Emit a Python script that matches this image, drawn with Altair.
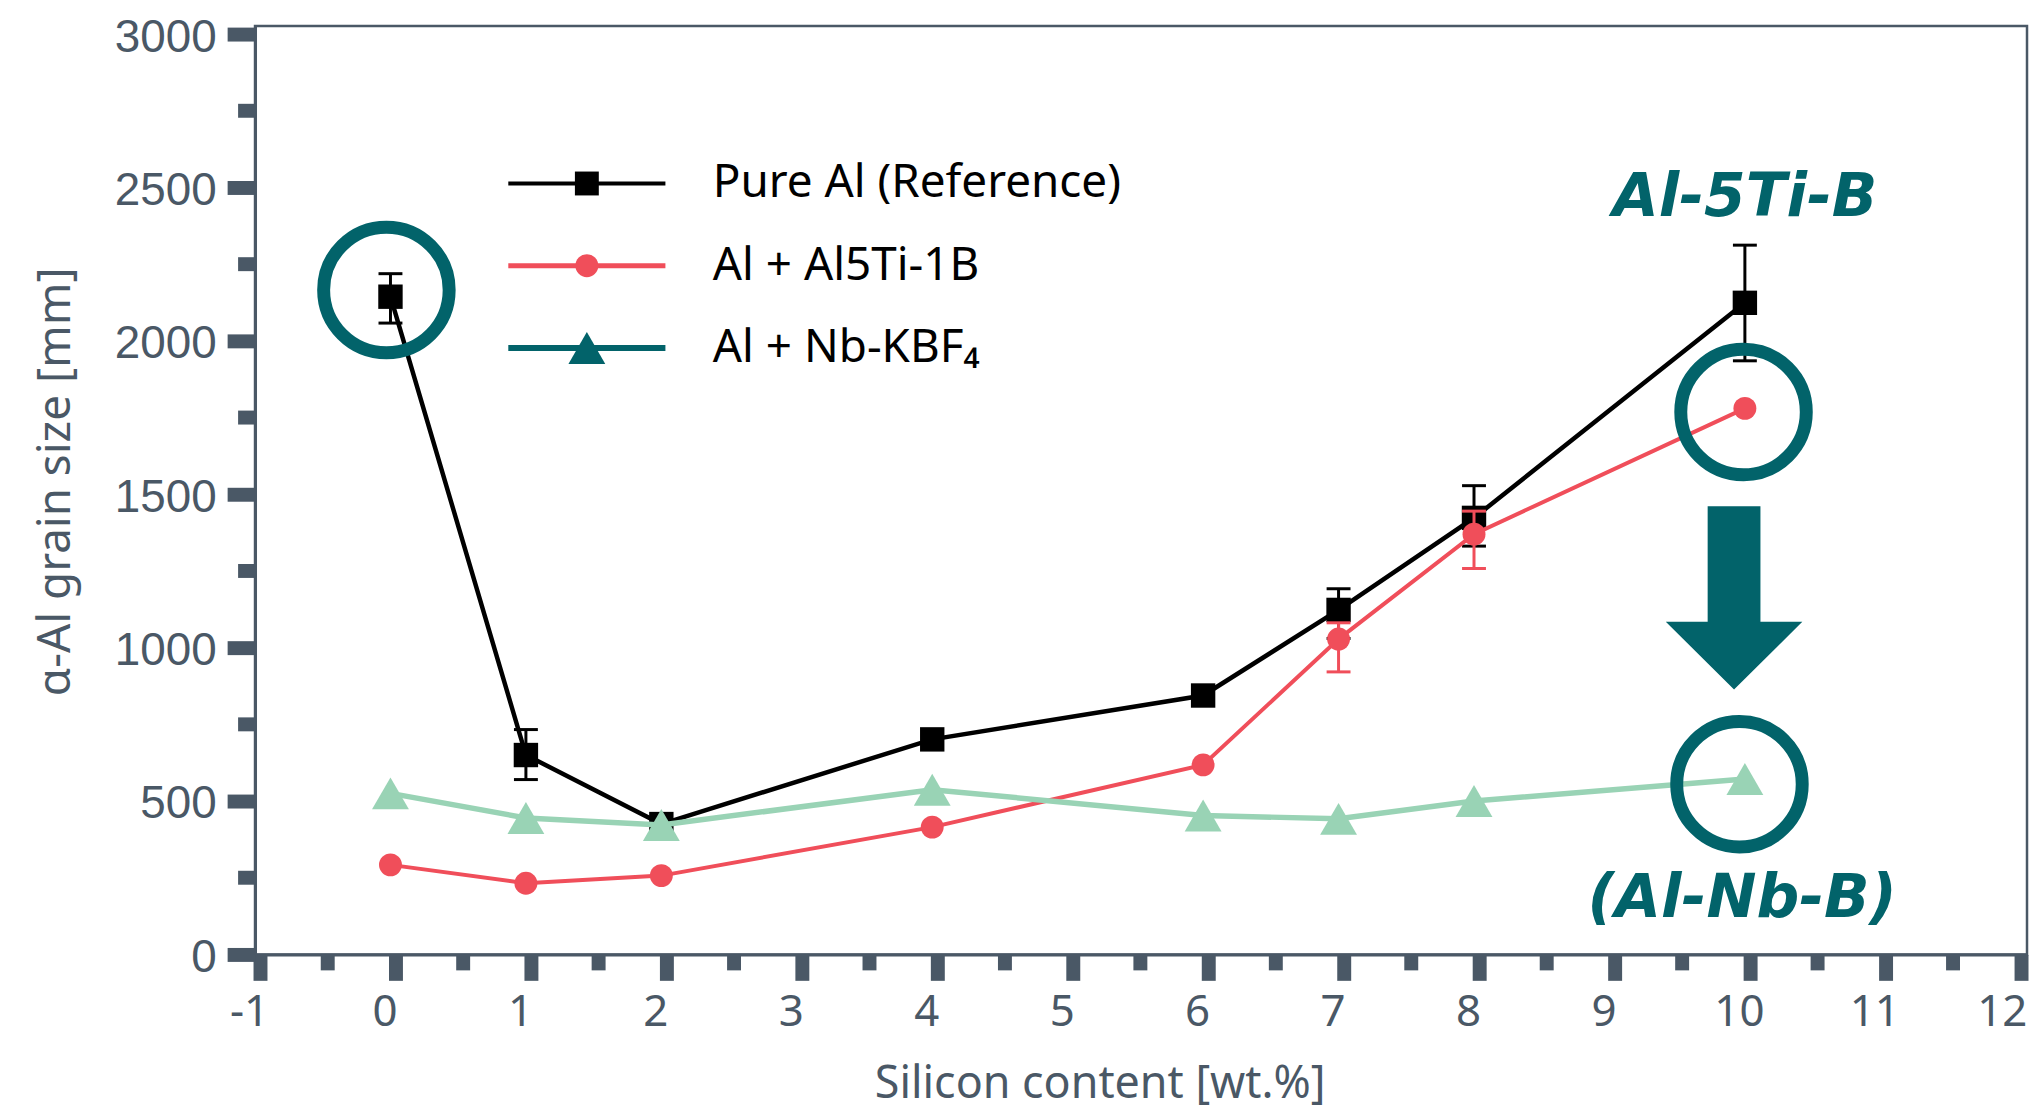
import altair as alt
import pandas as pd

# ---------------- data ----------------
si = [0, 1, 2, 4, 6, 7, 8, 10]
pure_al = [2144, 650, 425, 701, 844, 1123, 1423, 2124]
al5ti_1b = [292, 232, 257, 415, 618, 1028, 1370, 1780]
nb_kbf4 = [525, 445, 422, 537, 453, 442, 500, 572]

pure_err_si = [0, 1, 7, 8, 10]
pure_err_lo = [2058, 570, 1030, 1331, 1935]
pure_err_hi = [2219, 733, 1192, 1528, 2312]

al5ti_err_si = [7, 8]
al5ti_err_lo = [921, 1258]
al5ti_err_hi = [1081, 1445]

legend_labels = ["Pure Al (Reference)", "Al + Al5Ti-1B", "Al + Nb-KBF\u2084"]
x_ticks = list(range(-1, 13))
x_minor = [i + 0.5 for i in range(-1, 12)]
y_ticks = list(range(0, 3001, 500))
y_minor = list(range(250, 3000, 500))

# annotation anchors (data units)
ring_x = [-0.03, 9.99, 9.96]
ring_y = [2166, 1768, 555]
arrow_x = [9.92]
arrow_y = [1162]
note_text = ["Al-5Ti-B", "(Al-Nb-B)"]
note_x = [10.0, 9.98]
note_y = [2464, 182]
leg_x0, leg_x1, leg_xm, leg_xt = 0.87, 2.03, 1.45, 2.38
leg_y = [2513, 2245, 1977]

# ---------------- styles ----------------
AX = "#4a5866"
BLACK = "#000000"
RED = "#f04e5a"
MINT = "#99d3b5"
TEAL = "#02636a"
FONT = "Noto Sans"

xscale = alt.Scale(domain=[-1, 12.083], nice=False, zero=False)
yscale = alt.Scale(domain=[0, 3026], nice=False, zero=False)

x_axis = alt.Axis(values=x_ticks, title="Silicon content [wt.%]", grid=False,
                  tickSize=26, tickWidth=14, tickColor=AX, tickOffset=5,
                  labelOffset={"condition": {"test": "datum.value == 12", "value": -19}, "value": -11},
                  labelPadding=10, labelFont=FONT, labelFontSize=44,
                  labelColor=AX, labelFlush=False, labelOverlap=False,
                  labelExpr="'' + datum.value",
                  domainColor=AX, domainWidth=3,
                  titleFont=FONT, titleFontSize=45, titleFontWeight="normal", titleColor=AX,
                  titleX=848, titleY=130, titleBaseline="middle", titleAlign="center")
y_axis = alt.Axis(values=y_ticks, title="\u03b1-Al grain size [mm]", grid=False,
                  tickSize=28, tickWidth=14, tickColor=AX,
                  labelPadding=11, labelFont="Liberation Sans", labelFontSize=46, labelColor=AX,
                  labelFlush=False, labelOverlap=False, format="d", labelOffset=3,
                  domainColor=AX, domainWidth=3,
                  titleFont=FONT, titleFontSize=46, titleFontWeight="normal", titleColor=AX,
                  titleX=-200, titleY=457, titleBaseline="middle", titleAlign="center",
                  titleAngle=-90)


def X(field="x"):
    return alt.X(f"{field}:Q", scale=xscale, axis=x_axis)


def Y(field="y"):
    return alt.Y(f"{field}:Q", scale=yscale, axis=y_axis)


layers = []

# minor ticks
layers.append(alt.Chart(pd.DataFrame({"y": y_minor})).mark_rule(color=AX, strokeWidth=14)
              .encode(y=Y(), x=alt.value(-17), x2=alt.value(0)))
layers.append(alt.Chart(pd.DataFrame({"x": x_minor})).mark_rule(color=AX, strokeWidth=14, xOffset=5)
              .encode(x=X(), y=alt.value(932), y2=alt.value(948)))


def series(xs, ys, color, width, shape, size, ex=None, lo=None, hi=None):
    d = pd.DataFrame({"x": xs, "y": ys})
    out = [alt.Chart(d).mark_line(color=color, strokeWidth=width).encode(x=X(), y=Y())]
    if ex:
        e = pd.DataFrame({"x": ex, "lo": lo, "hi": hi})
        out.append(alt.Chart(e).mark_rule(color=color, strokeWidth=3)
                   .encode(x=X(), y=Y("lo"), y2="hi:Q"))
        for col in ["lo", "hi"]:
            out.append(alt.Chart(e).mark_point(shape="stroke", size=576, strokeWidth=3,
                                                color=color, filled=False, opacity=1)
                       .encode(x=X(), y=Y(col)))
    out.append(alt.Chart(d).mark_point(shape=shape, size=size, filled=True, color=color, opacity=1)
               .encode(x=X(), y=Y()))
    return out


layers += series(si, pure_al, BLACK, 4.5, "square", 600, pure_err_si, pure_err_lo, pure_err_hi)
layers += series(si, al5ti_1b, RED, 4, "circle", 529, al5ti_err_si, al5ti_err_lo, al5ti_err_hi)
layers += series(si, nb_kbf4, MINT, 5.5, "triangle-up", 1369)

# rings
layers.append(alt.Chart(pd.DataFrame({"x": ring_x, "y": ring_y}))
              .mark_point(shape="circle", filled=False, strokeWidth=13, size=15876, color=TEAL, opacity=1)
              .encode(x=X(), y=Y()))
# arrow
ARROW = "M-0.288,-1L0.288,-1L0.288,0.26L0.745,0.26L0,1L-0.745,0.26L-0.288,0.26Z"
layers.append(alt.Chart(pd.DataFrame({"x": arrow_x, "y": arrow_y}))
              .mark_point(shape=ARROW, filled=True, size=33856, color=TEAL, opacity=1, strokeWidth=0)
              .encode(x=X(), y=Y()))
# notes
layers.append(alt.Chart(pd.DataFrame({"x": note_x, "y": note_y, "t": note_text}))
              .mark_text(font="DejaVu Sans", fontWeight="bold", fontStyle="italic", fontSize=60,
                         color=TEAL, align="center", baseline="middle")
              .encode(x=X(), y=Y(), text="t:N"))

# legend
leg_colors = [BLACK, RED, TEAL]
leg_widths = [4, 5, 6]
leg_shapes = ["square", "circle", "triangle-up"]
leg_sizes = [576, 529, 1369]
leg = pd.DataFrame({"y": leg_y, "label": legend_labels, "c": leg_colors, "w": leg_widths,
                    "s": leg_shapes, "z": leg_sizes,
                    "x": [leg_x0] * 3, "x2": [leg_x1] * 3, "xm": [leg_xm] * 3, "xt": [leg_xt] * 3})
layers.append(alt.Chart(leg).mark_rule()
              .encode(x=X(), x2="x2:Q", y=Y(), color=alt.Color("c:N", scale=None),
                      strokeWidth=alt.StrokeWidth("w:Q", scale=None)))
layers.append(alt.Chart(leg).mark_point(filled=True, opacity=1)
              .encode(x=X("xm"), y=Y(),
                      color=alt.Color("c:N", scale=None),
                      shape=alt.Shape("s:N", scale=None), size=alt.Size("z:Q", scale=None)))
layers.append(alt.Chart(leg).mark_text(font=FONT, fontSize=46, color="#000000", align="left",
                                       baseline="middle")
              .encode(x=X("xt"), y=Y(), text="label:N"))

chart = (alt.layer(*layers)
         .properties(width=1779, height=932,
                     autosize=alt.AutoSizeParams(type="none"),
                     padding={"left": 248, "top": 16, "right": 3, "bottom": 155})
         .configure_view(stroke=AX, strokeWidth=2.5))

chart.save("out.html", embed_options={"renderer": "svg", "actions": False})
